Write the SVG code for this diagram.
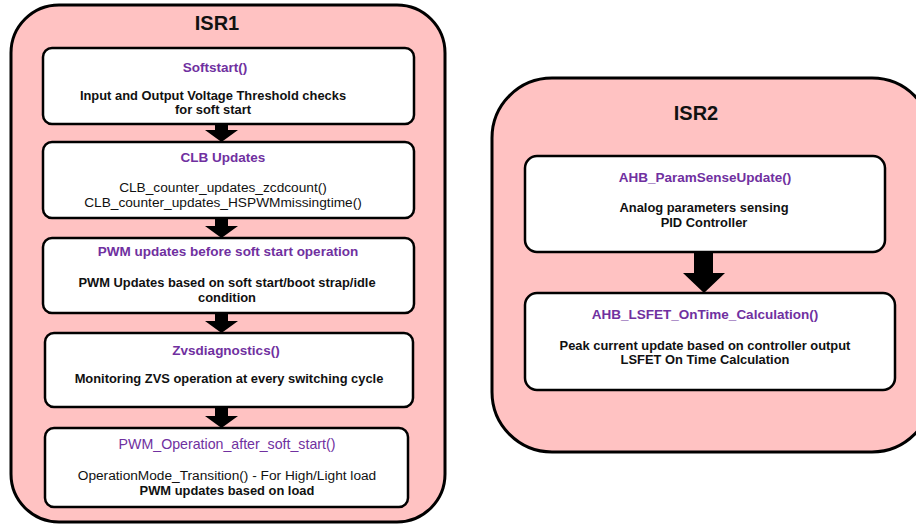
<svg xmlns="http://www.w3.org/2000/svg" width="916" height="525" viewBox="0 0 916 525">
<defs>
<style>
.outer{fill:#ffc2c2;stroke:#000;stroke-width:3}
.box{fill:#fff;stroke:#000;stroke-width:2.5}
text{font-family:"Liberation Sans",Arial,sans-serif;text-anchor:middle;font-size:13.7px;fill:#111}
.hdr{font-size:20px;font-weight:bold}
.t{fill:#7030a0;font-weight:bold;font-size:13.5px}
.tn{fill:#7030a0;font-size:14.2px}
.b{font-weight:bold;font-size:12.9px}
.arr{fill:#000}
</style>
</defs>
<rect width="916" height="525" fill="#fff"/>
<g id="isr1">
<rect class="outer" x="11" y="5" width="434" height="517" rx="48" ry="48"/>
<text class="hdr" x="217" y="30">ISR1</text>
</g>
<g id="isr2">
<rect class="outer" x="492" y="78" width="440" height="374" rx="60" ry="60"/>
<text class="hdr" x="696" y="120">ISR2</text>
</g>
<g id="softstart">
<rect class="box" x="43" y="48" width="371" height="76" rx="9"/>
<text class="t" x="215" y="72">Softstart()</text>
<text class="b" x="213" y="100">Input and Output Voltage Threshold checks</text>
<text class="b" x="213" y="114">for soft start</text>
</g>
<g id="clb">
<rect class="box" x="43" y="142" width="371" height="76" rx="9"/>
<text class="t" x="223" y="162">CLB Updates</text>
<text x="223" y="192">CLB_counter_updates_zcdcount()</text>
<text x="223" y="207">CLB_counter_updates_HSPWMmissingtime()</text>
</g>
<g id="pwmbefore">
<rect class="box" x="43" y="238" width="371" height="75" rx="9"/>
<text class="t" x="228" y="256">PWM updates before soft start operation</text>
<text class="b" x="227" y="287">PWM Updates based on soft start/boot strap/idle</text>
<text class="b" x="227" y="302">condition</text>
</g>
<g id="zvs">
<rect class="box" x="45" y="333" width="368" height="74" rx="9"/>
<text class="t" x="226" y="355">Zvsdiagnostics()</text>
<text class="b" x="229" y="383">Monitoring ZVS operation at every switching cycle</text>
</g>
<g id="pwmafter">
<rect class="box" x="45" y="428" width="363" height="79" rx="9"/>
<text class="tn" x="227" y="449">PWM_Operation_after_soft_start()</text>
<text x="227" y="480">OperationMode_Transition() - For High/Light load</text>
<text class="b" x="227" y="495">PWM updates based on load</text>
</g>
<g id="ahbparam">
<rect class="box" x="525" y="156" width="360" height="96" rx="12"/>
<text class="t" x="705" y="182">AHB_ParamSenseUpdate()</text>
<text class="b" x="704" y="212">Analog parameters sensing</text>
<text class="b" x="704" y="227">PID Controller</text>
</g>
<g id="ahblsfet">
<rect class="box" x="525" y="293" width="370" height="97" rx="12"/>
<text class="t" x="705" y="319">AHB_LSFET_OnTime_Calculation()</text>
<text class="b" x="705" y="350">Peak current update based on controller output</text>
<text class="b" x="705" y="364">LSFET On Time Calculation</text>
</g>
<g id="connectors">
<polygon class="arr" points="215,124 228,124 228,130 238,130 221.5,142 205,130 215,130"/>
<polygon class="arr" points="215,218 228,218 228,226 238,226 221.5,238 205,226 215,226"/>
<polygon class="arr" points="215,313 228,313 228,321 238,321 221.5,333 205,321 215,321"/>
<polygon class="arr" points="215,407 228,407 228,416 238,416 221.5,428 205,416 215,416"/>
<polygon class="arr" points="694,252 713,252 713,273 725,273 704,293 683,273 694,273"/>
</g>
</svg>
